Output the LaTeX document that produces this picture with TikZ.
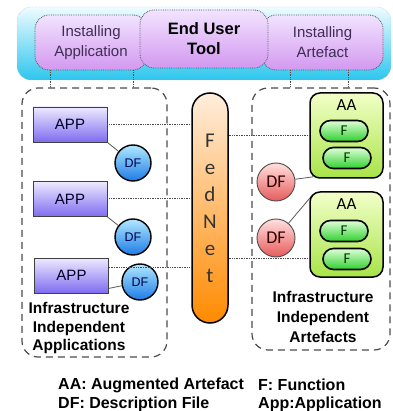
\documentclass[tikz,border=0pt]{standalone}
\usepackage{fontspec}
\setmainfont{Liberation Sans}
\newfontfamily\calfont{Carlito}
\usetikzlibrary{backgrounds}
\definecolor{bantop}{HTML}{EEFCFF}
\definecolor{banbot}{HTML}{2CC6EE}
\definecolor{pinktop}{HTML}{F2E4FF}
\definecolor{pinkbot}{HTML}{D398F0}
\definecolor{insttext}{HTML}{3E2E54}
\definecolor{apptop}{HTML}{EEEAFF}
\definecolor{appbot}{HTML}{7E6CF0}
\definecolor{bdftop}{HTML}{B0E8FF}
\definecolor{bdfbot}{HTML}{1E7CE6}
\definecolor{rdftop}{HTML}{FFE0E0}
\definecolor{rdfbot}{HTML}{E85A5A}
\definecolor{aatop}{HTML}{F2FFC8}
\definecolor{aabot}{HTML}{A8E448}
\definecolor{ftop}{HTML}{E0FFD8}
\definecolor{fbot}{HTML}{2ED02E}
\definecolor{fntop}{HTML}{FFEEDD}
\definecolor{fnbot}{HTML}{FF8A00}
\begin{document}
\begin{tikzpicture}[x=1pt,y=-1pt,
  bannerbox/.style={draw=gray!60, densely dotted, rounded corners=14, top color=bantop, bottom color=banbot, inner sep=0pt},
  pinkbox/.style={draw=gray!70!black, densely dotted, line width=0.8pt, rounded corners=14, top color=pinktop, bottom color=pinkbot, inner sep=0pt, align=center},
  groupbox/.style={draw=gray!60!black, line width=1.2pt, dash pattern=on 7pt off 5pt, rounded corners=16, inner sep=0pt},
  appbox/.style={draw=black!75, line width=0.8pt, top color=apptop, bottom color=appbot, minimum width=74pt, minimum height=35pt, inner sep=0pt, text=black!85!blue, font=\fontsize{15}{15}\selectfont},
  bluedf/.style={circle, draw=black, line width=1.4pt, top color=bdftop, bottom color=bdfbot, minimum size=36pt, inner sep=0pt, text=black!70!blue, font=\fontsize{12.5}{12.5}\selectfont},
  reddf/.style={circle, draw=black!70, line width=0.9pt, top color=rdftop, bottom color=rdfbot, minimum size=38pt, inner sep=0pt, text=black!80!red, font=\calfont\fontsize{18}{18}\selectfont},
  aabox/.style={draw=black, line width=1.5pt, rounded corners=10, top color=aatop, bottom color=aabot, minimum width=73pt, minimum height=85pt, inner sep=0pt},
  fpill/.style={draw=black, line width=1.6pt, rounded corners=10.5, top color=ftop, bottom color=fbot, minimum width=48pt, minimum height=21pt, inner sep=0pt, text=black!80!green, font=\calfont\fontsize{15}{15}\selectfont},
  aalabel/.style={inner sep=0pt, font=\calfont\fontsize{17}{17}\selectfont},
  link/.style={draw=black!65, line width=0.8pt},
  dotlink/.style={draw=black!70, densely dotted, line width=0.7pt},
  grouplabel/.style={align=center, inner sep=0pt, font=\bfseries\fontsize{15.5}{18.5}\selectfont},
  legend/.style={anchor=west, inner sep=0pt, font=\bfseries\fontsize{16}{16}\selectfont}
]
\useasboundingbox (0,0) rectangle (392,411);
\begin{scope}[on background layer]
  \fill[white] (0,0) rectangle (392,411);
\end{scope}

% top banner
\node[bannerbox, minimum width=374pt, minimum height=73pt] (banner) at (204,43.5) {};
\node[pinkbox, minimum width=112pt, minimum height=55pt, text=insttext, font=\fontsize{15}{20}\selectfont] (instapp) at (91,42.5) {Installing\\Application};
\node[pinkbox, minimum width=121pt, minimum height=55pt, text=insttext, font=\fontsize{15}{20}\selectfont] (instart) at (322.5,42.5) {Installing\\Artefact};
\node[pinkbox, minimum width=128pt, minimum height=58pt, font=\bfseries\fontsize{16.5}{20}\selectfont] (enduser) at (204,39) {End User\\Tool};

% group boxes
\node[groupbox, minimum width=145pt, minimum height=269pt] (leftgrp) at (94.5,222.5) {};
\node[groupbox, minimum width=138pt, minimum height=262pt] (rightgrp) at (321,219) {};

% dotted links from installers
\draw[dotlink] ([xshift=-41pt]instapp.south) -- ([xshift=-41pt]instapp.south |- leftgrp.north);
\draw[dotlink] ([xshift=42pt]instapp.south) -- ([xshift=42pt]instapp.south |- leftgrp.north);
\draw[dotlink] ([xshift=-32.5pt]instart.south) -- ([xshift=-32.5pt]instart.south |- rightgrp.north);
\draw[dotlink] ([xshift=25.5pt]instart.south) -- ([xshift=25.5pt]instart.south |- rightgrp.north);

% FedNet
\node[draw=black, line width=1.5pt, rounded corners=18, top color=fntop, bottom color=fnbot,
      minimum width=36pt, minimum height=230pt, inner sep=0pt, align=center, text=black!80,
      font=\calfont\fontsize{21}{27}\selectfont] (fednet) at (210,208) {F\\e\\d\\N\\e\\t};

% applications
\node[appbox] (app1) at (70,124.5) {APP};
\node[appbox] (app2) at (70,199) {APP};
\node[appbox] (app3) at (71.5,275.5) {APP};
\node[bluedf] (df1) at (133,163) {DF};
\node[bluedf] (df2) at (133,237) {DF};
\node[bluedf] (df3) at (140,282) {DF};
\begin{scope}[on background layer]
  \draw[link] (app1.south east) -- (df1);
  \draw[link] (app2.south east) -- (df2);
  \draw[link] ([yshift=5pt]app3.south east) -- (df3);
\end{scope}
\draw[dotlink] ([yshift=0.5pt]app1.east) -- ([yshift=0.5pt]app1.east -| fednet.west);
\draw[dotlink] ([yshift=1pt]app2.east) -- ([yshift=1pt]app2.east -| fednet.west);
\draw[dotlink] ([yshift=8.5pt]app3.east) -- ([yshift=8.5pt]app3.east -| fednet.west);

% artefacts
\node[aabox] (aa1) at (346.5,135.5) {};
\node[aalabel] (aa1l) at (346.5,105) {AA};
\node[fpill] (f1a) at (344,131) {F};
\node[fpill] (f1b) at (347,158) {F};
\node[aabox] (aa2) at (346.5,234.5) {};
\node[aalabel] (aa2l) at (346.5,204) {AA};
\node[fpill] (f2a) at (344,231) {F};
\node[fpill] (f2b) at (347,259) {F};
\node[reddf] (rdf1) at (276,182) {DF};
\node[reddf] (rdf2) at (276,238) {DF};
\begin{scope}[on background layer]
  \draw[link] (rdf1) -- ([xshift=4pt,yshift=2pt]aa1.south west);
  \draw[link] (rdf2) -- ([xshift=3pt,yshift=-4pt]aa2.north west);
\end{scope}
\draw[dotlink] ([yshift=0.5pt]fednet.east |- aa1.west) -- ([yshift=0.5pt]aa1.west);
\draw[dotlink] ([yshift=-23.5pt]fednet.east |- aa2.west) -- ([yshift=-23.5pt]aa2.west);

% group labels
\node[grouplabel] (leftlab) at (79,328) {Infrastructure\\Independent\\Applications};
\node[grouplabel, font=\bfseries\fontsize{15.5}{20}\selectfont] (rightlab) at (323,317) {Infrastructure\\Independent\\Artefacts};

% legend
\node[legend] (lg1) at (58,385) {AA: Augmented Artefact};
\node[legend] (lg2) at (258,385) {F: Function};
\node[legend] (lg3) at (58,404) {DF: Description File};
\node[legend] (lg4) at (258,404) {App:Application};
\end{tikzpicture}
\end{document}
